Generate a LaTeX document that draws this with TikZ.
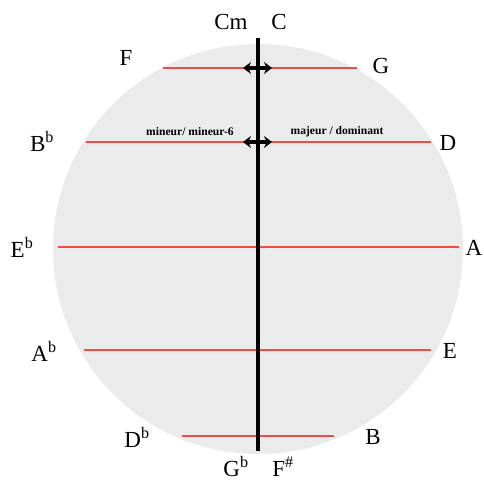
\documentclass[tikz,border=0pt]{standalone}
\usepackage{fontspec}
\setmainfont{Liberation Serif}
\usetikzlibrary{arrows.meta}

\definecolor{discgrey}{HTML}{EBEBEB}
\definecolor{chordred}{HTML}{F24B45}

\tikzset{
  keylabel/.style={font=\fontsize{23}{26}\selectfont, inner sep=0pt},
  modelabel/.style={font=\fontsize{11.6}{13}\selectfont\bfseries, inner sep=0pt},
  chordline/.style={chordred, line width=1.1pt},
  swapper/.style={{Stealth[length=8pt,width=12pt]}-{Stealth[length=8pt,width=12pt]}, line width=3.5pt}
}

\begin{document}
\begin{tikzpicture}[x=1pt, y=-1pt]
\useasboundingbox (0,0) rectangle (484,482);

% Disc
\fill[discgrey] (258,249) circle (205);

% Chord ends
\coordinate (fl) at (163,68);  \coordinate (fr) at (357,68);
\coordinate (bl) at (86,142);  \coordinate (br) at (431,142);
\coordinate (el) at (58,247);  \coordinate (er) at (459,247);
\coordinate (al) at (84,350);  \coordinate (ar) at (431,350);
\coordinate (dl) at (182,436); \coordinate (dr) at (334,436);

% Red chords
\draw[chordline] (fl) -- (fr);
\draw[chordline] (bl) -- (br);
\draw[chordline] (el) -- (er);
\draw[chordline] (al) -- (ar);
\draw[chordline] (dl) -- (dr);

% Axis
\coordinate (top) at (258,38);
\coordinate (bot) at (258,451);
\draw[line width=3.5pt] (top) -- (bot);

% Swap arrows
\coordinate (s1l) at (243,68);  \coordinate (s1r) at (272,68);
\coordinate (s2l) at (243,142); \coordinate (s2r) at (272,142);
\draw[swapper] (s1l) -- (s1r);
\draw[swapper] (s2l) -- (s2r);

% Key labels
\node[keylabel] (cm) at (231,22) {Cm};
\node[keylabel] (c)  at (279,22) {C};
\node[keylabel] (f)  at (126,58) {F};
\node[keylabel] (g)  at (381,66) {G};
\node[keylabel] (bb) at (42,141) {B\textsuperscript{b}};
\node[keylabel] (d)  at (448,143) {D};
\node[keylabel] (eb) at (22,247) {E\textsuperscript{b}};
\node[keylabel] (a)  at (474,248) {A};
\node[keylabel] (ab) at (44,351) {A\textsuperscript{b}};
\node[keylabel] (e)  at (450,351) {E};
\node[keylabel] (db) at (137,437) {D\textsuperscript{b}};
\node[keylabel] (b)  at (373,437) {B};
\node[keylabel] (gb) at (236,467) {G\textsuperscript{b}};
\node[keylabel] (fs) at (283,467) {F\textsuperscript{\#}};

% Mode labels
\node[modelabel] (minor) at (190,132) {mineur/ mineur-6};
\node[modelabel] (major) at (337,132) {majeur / dominant};

\end{tikzpicture}
\end{document}
